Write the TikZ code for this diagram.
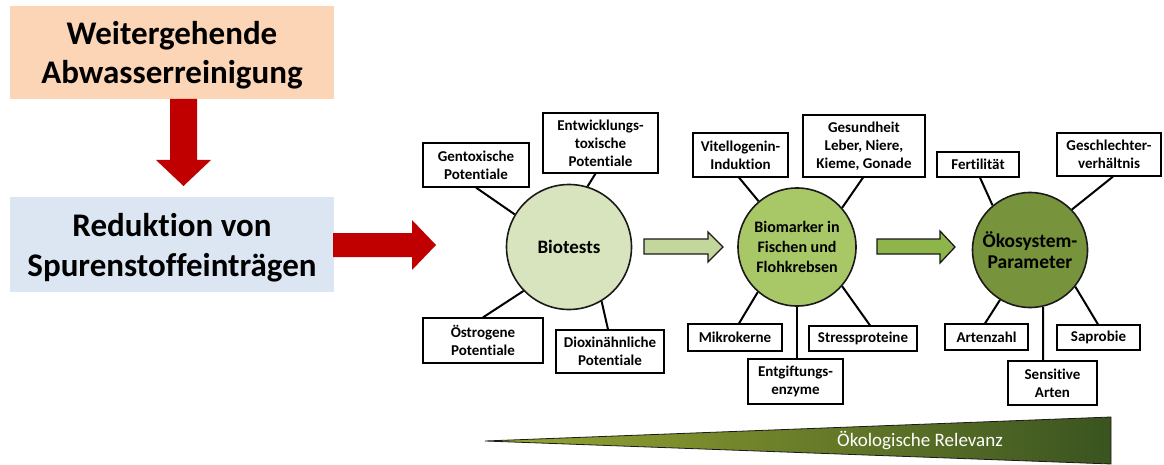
\documentclass[tikz,border=0pt]{standalone}
\usepackage{fontspec}
\setmainfont{Carlito}[Ligatures=NoCommon]
\usetikzlibrary{calc}
\definecolor{peach}{HTML}{FBD5B5}
\definecolor{paleblue}{HTML}{DCE6F2}
\definecolor{redarrow}{HTML}{C00000}
\definecolor{greenA}{HTML}{D7E4BD}
\definecolor{greenArr1}{HTML}{C3D69B}
\definecolor{greenB}{HTML}{A8C868}
\definecolor{greenArr2}{HTML}{8DB54A}
\definecolor{greenC}{HTML}{77933C}
\definecolor{wedgeL}{HTML}{9AA733}
\definecolor{wedgeR}{HTML}{3A5420}
\definecolor{edge}{HTML}{1A1A1A}
\tikzset{
  bigbox/.style={draw=none, inner sep=0pt},
  bigtext/.style={inner sep=0pt, align=center, font=\fontsize{33}{39.5}\selectfont\bfseries},
  smallbox/.style={draw=black, line width=1.2pt, fill=white, inner sep=0pt, align=center,
    font=\fontsize{15}{18}\selectfont\bfseries},
  hub/.style={circle, draw=edge, line width=1.6pt, inner sep=0pt, minimum size=#1, align=center},
  spoke/.style={draw=black, line width=2pt},
  blockarrow/.style={draw=edge, line width=1.3pt}
}
\begin{document}
\begin{tikzpicture}[x=1pt, y=-1pt]
\useasboundingbox (0,0) rectangle (1164,465);

% left boxes
\node[bigbox, fill=peach, minimum width=324, minimum height=93] (top) at (172,52.5) {};
\node[bigtext] (toptext) at ([yshift=-2.5pt]top.center) {Weitergehende\\Abwasserreinigung};
\node[bigbox, fill=paleblue, minimum width=324, minimum height=95] (red) at (172,244.5) {};
\node[bigtext] (redtext) at ([yshift=-3pt]red.center) {Reduktion von\\Spurenstoffeinträgen};

% red arrows
\fill[redarrow] (170,99) -- (197,99) -- (197,160) -- (211,160) -- (183.5,186) -- (156,160) -- (170,160) -- cycle;
\fill[redarrow] (333,233) -- (412,233) -- (412,220) -- (436,245) -- (412,270) -- (412,257) -- (333,257) -- cycle;

% hubs
\node[hub=125, fill=greenA, font=\fontsize{19}{23}\selectfont\bfseries] (bio) at (569,247) {Biotests};
\node[hub=118, fill=greenB, font=\fontsize{16}{20}\selectfont\bfseries] (bm) at (797,247)
  {Biomarker in\\Fischen und\\Flohkrebsen};
\node[hub=115, fill=greenC, font=\fontsize{19.5}{21}\selectfont\bfseries] (oek) at (1030,250)
  {Ökosystem-\\Parameter};

% green block arrows
\draw[blockarrow, fill=greenArr1] (644,239) -- (708,239) -- (708,232) -- (723,247) -- (708,262) -- (708,254) -- (644,254) -- cycle;
\draw[blockarrow, fill=greenArr2] (877,239) -- (940,239) -- (940,231) -- (955,247) -- (940,263) -- (940,254) -- (877,254) -- cycle;

% Biotests boxes
\node[smallbox, minimum width=106, minimum height=44] (gen) at (476,165) {Gentoxische\\Potentiale};
\node[smallbox, minimum width=115, minimum height=60] (ent) at (600.5,143) {Entwicklungs-\\toxische\\Potentiale};
\node[smallbox, minimum width=120, minimum height=45] (oes) at (483,340.5) {Östrogene\\Potentiale};
\node[smallbox, minimum width=108, minimum height=43] (dio) at (610,351.5) {Dioxinähnliche\\Potentiale};
\draw[spoke] (gen.south) -- (bio.149);
\draw[spoke] ([xshift=-5]ent.south) -- (bio.73);
\draw[spoke] (oes.north) -- (bio.224);
\draw[spoke] ([xshift=-2]dio.north) -- (bio.301);

% Biomarker boxes
\node[smallbox, minimum width=95, minimum height=44] (vit) at (740.5,155) {Vitellogenin-\\Induktion};
\node[smallbox, minimum width=122, minimum height=62] (ges) at (864,146) {Gesundheit\\Leber, Niere,\\Kieme, Gonade};
\node[smallbox, minimum width=94, minimum height=27] (mik) at (735,337.5) {Mikrokerne};
\node[smallbox, minimum width=108, minimum height=25] (str) at (863,338.5) {Stressproteine};
\node[smallbox, minimum width=95, minimum height=45] (entg) at (795.5,381.5) {Entgiftungs-\\enzyme};
\draw[spoke] ([xshift=-1.5]vit.south) -- (bm.130);
\draw[spoke] ([xshift=-1]ges.south) -- (bm.41);
\draw[spoke] ([xshift=4]mik.north) -- (bm.229);
\draw[spoke] ([xshift=7]str.north) -- (bm.319);
\draw[spoke] ([xshift=1.5]entg.north) -- (bm.south);

% Oekosystem boxes
\node[smallbox, minimum width=82, minimum height=25] (fer) at (978,164.5) {Fertilität};
\node[smallbox, minimum width=104, minimum height=43] (gesch) at (1109,154.5) {Geschlechter-\\verhältnis};
\node[smallbox, minimum width=83, minimum height=26] (art) at (986.5,337) {Artenzahl};
\node[smallbox, minimum width=83, minimum height=25] (sap) at (1098.5,337.5) {Saprobie};
\node[smallbox, minimum width=89, minimum height=44] (sen) at (1052.5,383) {Sensitive\\Arten};
\draw[spoke] ([xshift=2]fer.south) -- (oek.130);
\draw[spoke] ([xshift=4]gesch.south) -- (oek.44);
\draw[spoke] ([xshift=-1.5]art.north) -- (oek.239);
\draw[spoke] ([xshift=-0.5]sap.north) -- (oek.321);
\draw[spoke] ([xshift=-9.5]sen.north) -- (oek.283);

% wedge
\shade[left color=wedgeL, right color=wedgeR, draw=edge, line width=0.8pt]
  (485,441) -- (1111,417) -- (1111,464) -- cycle;
\node[text=white, font=\fontsize{19}{22}\selectfont] (rel) at (920,441) {Ökologische Relevanz};
\end{tikzpicture}
\end{document}
